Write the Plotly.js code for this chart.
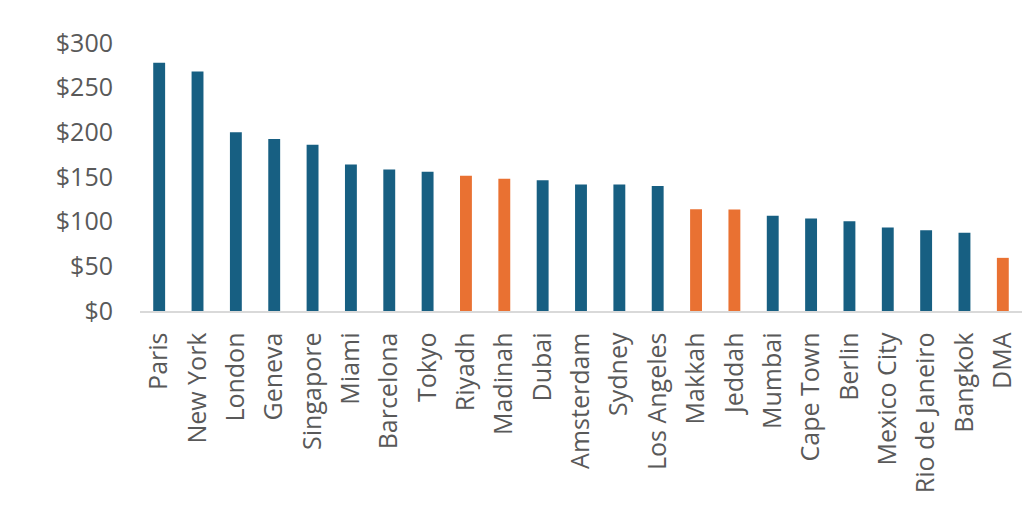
<!DOCTYPE html>
<html>
<head>
<meta charset="utf-8">
<script src="https://cdn.plot.ly/plotly-3.0.1.min.js"></script>
<style>html,body{margin:0;padding:0;background:#fff;}#chart{width:1024px;height:513px;}</style>
</head>
<body>
<div id="chart"></div>
<script>
const cities = ["Paris","New York","London","Geneva","Singapore","Miami","Barcelona","Tokyo","Riyadh","Madinah","Dubai","Amsterdam","Sydney","Los Angeles","Makkah","Jeddah","Mumbai","Cape Town","Berlin","Mexico City","Rio de Janeiro","Bangkok","DMA"];
const values = [278, 268, 200, 192.5, 186, 164, 158.5, 156, 151.5, 148, 146.5, 141.5, 141.5, 140, 114, 113.5, 106.5, 103.5, 100.5, 93.5, 90.5, 87.5, 59.5];
const highlighted = ["Riyadh","Madinah","Makkah","Jeddah","DMA"];
const yTickVals = [0, 50, 100, 150, 200, 250, 300];
const yTickText = ["$0","$50","$100","$150","$200","$250","$300"];

const BLUE = "#175f82", ORANGE = "#e97132";
const colors = cities.map(c => highlighted.includes(c) ? ORANGE : BLUE);

const trace = {
  type: "bar",
  x: cities,
  y: values,
  marker: {color: colors, line: {width: 0}},
  hoverinfo: "x+y"
};

const font = {family: "Open Sans, Noto Sans, sans-serif", size: 25, color: "#595959"};

const layout = {
  width: 1024, height: 513,
  margin: {l: 139.5, r: 2, t: 43, b: 202, pad: 0},
  paper_bgcolor: "#fff", plot_bgcolor: "#fff",
  font: font,
  bargap: 0.69,
  showlegend: false,
  xaxis: {
    type: "category",
    tickangle: -90,
    tickfont: font,
    showgrid: false,
    showline: true, linecolor: "#d9d9d9", linewidth: 1.5,
    ticks: "", ticklabelstandoff: 10,
    zeroline: false
  },
  yaxis: {
    range: [0, 300],
    tickvals: yTickVals, ticktext: yTickText,
    tickfont: font,
    showgrid: false, zeroline: false, showline: false,
    ticks: "", ticklabelstandoff: 26
  }
};

Plotly.newPlot("chart", [trace], layout, {displayModeBar: false, staticPlot: true});
</script>
</body>
</html>
